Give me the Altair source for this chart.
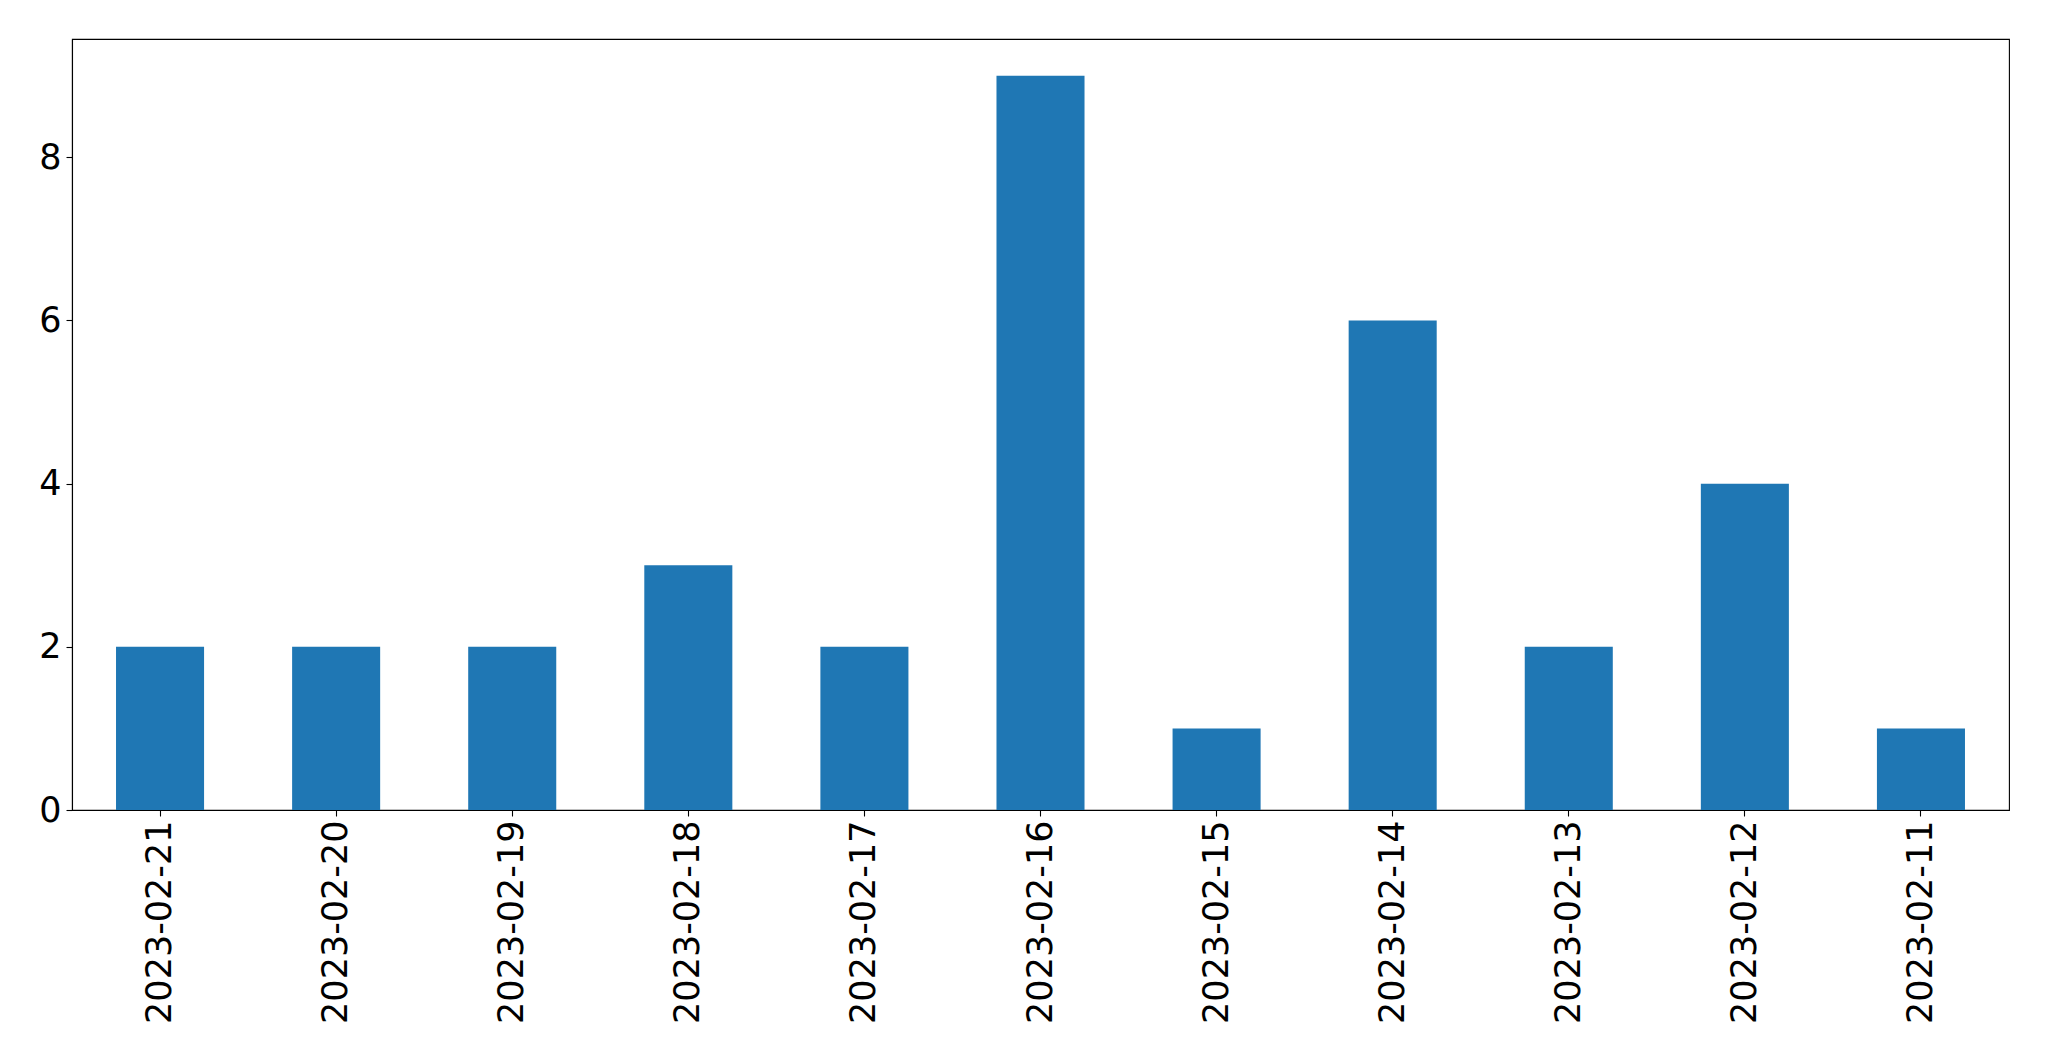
import altair as alt
import pandas as pd

dates = ["2023-02-21", "2023-02-20", "2023-02-19", "2023-02-18", "2023-02-17",
         "2023-02-16", "2023-02-15", "2023-02-14", "2023-02-13", "2023-02-12", "2023-02-11"]
counts = [2, 2, 2, 3, 2, 9, 1, 6, 2, 4, 1]
y_ticks = [0, 2, 4, 6, 8]

df = pd.DataFrame({"date": dates, "count": counts})

chart = alt.Chart(df).mark_bar(color="#1f77b4").encode(
    x=alt.X("date:N", sort=dates, title=None,
            scale=alt.Scale(paddingInner=0.5, paddingOuter=0.25),
            axis=alt.Axis(labelAngle=270, labelAlign="right", labelBaseline="middle",
                          labelFont="DejaVu Sans", labelFontSize=35, labelColor="black",
                          labelLimit=1000, labelOverlap=False,
                          labelPadding=4, tickSize=6, tickColor="black", tickWidth=1.1,
                          domainColor="black", domainWidth=1.1, grid=False)),
    y=alt.Y("count:Q", title=None,
            scale=alt.Scale(domain=[0, 9.45], nice=False, zero=True),
            axis=alt.Axis(values=y_ticks, format="d", labelFont="DejaVu Sans",
                          labelFontSize=35, labelColor="black", labelPadding=5,
                          tickSize=6, tickColor="black", tickWidth=1.1,
                          domainColor="black", domainWidth=1.1, grid=False)),
).properties(
    width=1937, height=771,
    background="white",
    autosize=alt.AutoSizeParams(type="none"),
    padding={"left": 64, "top": 31, "right": 30, "bottom": 230},
).configure_view(stroke="black", strokeWidth=1.1)

chart.save("out.html", embed_options={"renderer": "svg", "actions": False})
